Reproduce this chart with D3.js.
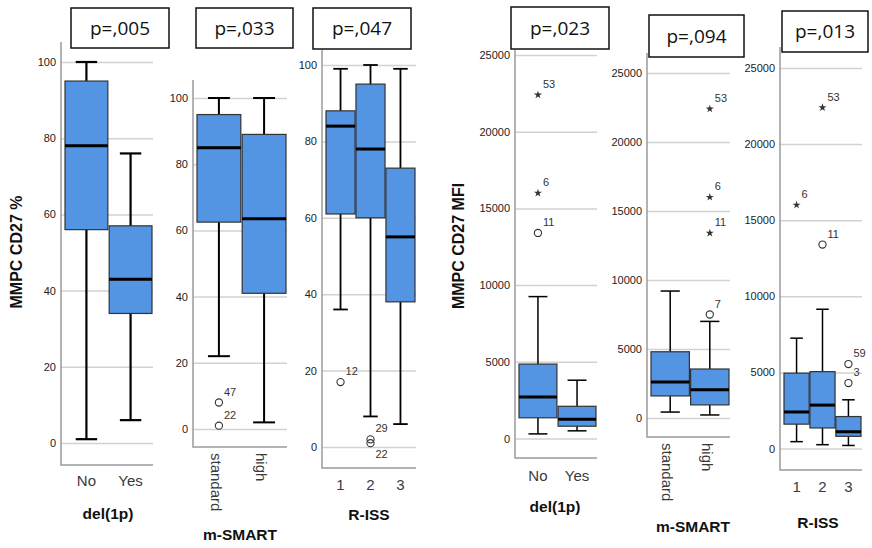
<!DOCTYPE html>
<head>
    <meta charset="utf-8">
    <script src="https://d3js.org/d3.v7.min.js"></script>
    <style>
      body { margin: 0; background: #fff; }
      text { font-family: "Liberation Sans", Arial, sans-serif; }
      .tick-label { font-size: 11px; fill: #222; }
      .cat-label { font-size: 15px; fill: #3a3a3a; }
      .axis-title { font-size: 15.5px; font-weight: bold; fill: #111; }
      .y-title { font-size: 16px; font-weight: bold; fill: #111; }
      .p-text { font-family: "Open Sans", sans-serif; font-size: 19px; fill: #111; }
      .case-label { font-size: 11px; fill: #333; }
    </style>
</head>
<body>
    <div class="chart"></div>

    <script>
      var pctTicks = [0, 20, 40, 60, 80, 100],
          mfiTicks = [0, 5000, 10000, 15000, 20000, 25000];

      var del1pCats = ["No", "Yes"],
          smartCats = ["standard", "high"],
          rissCats = ["1", "2", "3"];

      var pValues = [",005", ",033", ",047", ",023", ",094", ",013"];

      // [low whisker, Q1, median, Q3, high whisker]
      var pctDel1p = [[1, 56, 78, 95, 100], [6, 34, 43, 57, 76]];
      var pctSmart = [[22, 62.5, 85, 95, 100], [2, 41, 63.5, 89, 100]];
      var pctRiss = [[36, 61, 84, 88, 99], [8, 60, 78, 95, 100], [6, 38, 55, 73, 99]];
      var mfiDel1p = [[300, 1350, 2700, 4850, 9250], [500, 800, 1250, 2100, 3800]];
      var mfiSmart = [[430, 1600, 2600, 4800, 9200], [220, 950, 2050, 3550, 7000]];
      var mfiRiss = [[450, 1600, 2400, 4950, 7250], [250, 1350, 2850, 5050, 9150], [200, 800, 1100, 2100, 3200]];

      // outliers: [category, value, case number, "o" circle / "*" extreme]
      var pctDel1pOut = [];
      var pctSmartOut = [["standard", 8, "47", "o"], ["standard", 1, "22", "o"]];
      var pctRissOut = [["1", 17, "12", "o"], ["2", 2, "29", "o"], ["2", 1, "22", "o"]];
      var mfiDel1pOut = [["No", 22400, "53", "*"], ["No", 16000, "6", "*"], ["No", 13400, "11", "o"]];
      var mfiSmartOut = [["high", 22400, "53", "*"], ["high", 16000, "6", "*"], ["high", 13400, "11", "*"], ["high", 7500, "7", "o"]];
      var mfiRissOut = [["1", 16000, "6", "*"], ["2", 22400, "53", "*"], ["2", 13400, "11", "o"], ["3", 5550, "59", "o"], ["3", 4300, "3", "o"]];

      // layout of the six pasted SPSS panels
      var panels = [
        {cats: del1pCats, stats: pctDel1p, out: pctDel1pOut, ticks: pctTicks, max: 100,
         ax: 61, gx: 153, top: 42, bot: 465, y0: 443, yMax: 62, sw: 2.2,
         pbox: [71, 8, 98, 40], title: "del(1p)", tx: 108, ty: 519, rot: false, ly: 486,
         ytitle: "MMPC CD27 %", ytx: 16, yty: 252},
        {cats: smartCats, stats: pctSmart, out: pctSmartOut, ticks: pctTicks, max: 100,
         ax: 193, gx: 287, top: 80, bot: 447, y0: 429, yMax: 98, sw: 2,
         pbox: [196, 8, 97, 40], title: "m-SMART", tx: 240, ty: 540, rot: true, ly: 453},
        {cats: rissCats, stats: pctRiss, out: pctRissOut, ticks: pctTicks, max: 100,
         ax: 322, gx: 416, top: 50, bot: 468, y0: 447, yMax: 65, sw: 1.8,
         pbox: [313, 8, 98, 41], title: "R-ISS", tx: 369, ty: 520, rot: false, ly: 490,
         nudge: {2: 15}},
        {cats: del1pCats, stats: mfiDel1p, out: mfiDel1pOut, ticks: mfiTicks, max: 25000,
         ax: 515, gx: 597, top: 50, bot: 458, y0: 438.5, yMax: 55, sw: 1.5,
         pbox: [511, 7, 98, 42], title: "del(1p)", tx: 555, ty: 512, rot: false, ly: 481,
         ytitle: "MMPC CD27 MFI", ytx: 458, yty: 246},
        {cats: smartCats, stats: mfiSmart, out: mfiSmartOut, ticks: mfiTicks, max: 25000,
         ax: 647, gx: 730, top: 53, bot: 437, y0: 418, yMax: 73, sw: 1.5,
         pbox: [649, 15, 95, 42], title: "m-SMART", tx: 693, ty: 532, rot: true, ly: 443},
        {cats: rissCats, stats: mfiRiss, out: mfiRissOut, ticks: mfiTicks, max: 25000,
         ax: 780, gx: 862, top: 47, bot: 470, y0: 448.5, yMax: 68, sw: 1.5,
         pbox: [782, 11, 86, 41], title: "R-ISS", tx: 818, ty: 528, rot: false, ly: 492}
      ];

      var svg = d3.select('.chart')
          .append('svg')
          .attr('width', 872)
          .attr('height', 548);

      var boxFill = '#5394e3',
          gridColor = '#d2d2d2',
          axisColor = '#9a9a9a';

      panels.forEach(function(p, i) {
          var g = svg.append('g');

          var x = d3.scaleBand()
              .domain(p.cats)
              .range([p.ax + 4, p.gx - 1])
              .paddingInner(0.03);

          var y = d3.scaleLinear()
              .domain([0, p.max])
              .range([p.y0, p.yMax]);

          // gridlines + tick labels
          var yAxis = d3.axisLeft(y)
              .tickValues(p.ticks)
              .tickSize(-(p.gx - p.ax))
              .tickPadding(5)
              .tickFormat(d3.format('d'));

          var ag = g.append('g')
              .attr('transform', 'translate(' + p.ax + ',0)')
              .call(yAxis);
          ag.select('.domain').remove();
          ag.selectAll('.tick line').attr('stroke', gridColor).attr('stroke-width', 1.5);
          ag.selectAll('.tick text').attr('class', 'tick-label').attr('font-size', null).attr('font-family', null);

          // axis frame (left + bottom)
          g.append('path')
              .attr('d', 'M' + p.ax + ',' + p.top + 'V' + p.bot + 'H' + p.gx)
              .attr('fill', 'none')
              .attr('stroke', axisColor)
              .attr('stroke-width', 1.5);

          // boxes
          var bw = x.bandwidth();
          var boxes = g.selectAll('.box')
              .data(p.stats)
              .enter().append('g')
              .attr('transform', function(d, j) { return 'translate(' + x(p.cats[j]) + ',0)'; });

          boxes.append('line')
              .attr('x1', bw / 2).attr('x2', bw / 2)
              .attr('y1', function(d) { return y(d[0]); })
              .attr('y2', function(d) { return y(d[4]); })
              .attr('stroke', '#000').attr('stroke-width', p.sw);

          [0, 4].forEach(function(k) {
              boxes.append('line')
                  .attr('x1', bw * 0.25).attr('x2', bw * 0.75)
                  .attr('y1', function(d) { return y(d[k]); })
                  .attr('y2', function(d) { return y(d[k]); })
                  .attr('stroke', '#000').attr('stroke-width', p.sw);
          });

          boxes.append('rect')
              .attr('x', 0)
              .attr('width', bw)
              .attr('y', function(d) { return y(d[3]); })
              .attr('height', function(d) { return y(d[1]) - y(d[3]); })
              .attr('fill', boxFill)
              .attr('stroke', '#333')
              .attr('stroke-width', 1.2);

          boxes.append('line')
              .attr('x1', 0).attr('x2', bw)
              .attr('y1', function(d) { return y(d[2]); })
              .attr('y2', function(d) { return y(d[2]); })
              .attr('stroke', '#000').attr('stroke-width', 3);

          // outliers
          var star = d3.symbol().type(d3.symbolStar).size(20);
          p.out.forEach(function(o, k) {
              var cx = x(o[0]) + bw / 2, cy = y(o[1]);
              if (o[3] === 'o') {
                  g.append('circle')
                      .attr('cx', cx).attr('cy', cy).attr('r', 3.6)
                      .attr('fill', 'none').attr('stroke', '#333').attr('stroke-width', 1.1);
              } else {
                  g.append('path')
                      .attr('d', star)
                      .attr('transform', 'translate(' + cx + ',' + cy + ')')
                      .attr('fill', '#333');
              }
              var dy = (p.nudge && p.nudge[k] !== undefined) ? p.nudge[k] : -7;
              g.append('text')
                  .attr('class', 'case-label')
                  .attr('x', cx + 5)
                  .attr('y', cy + dy)
                  .text(o[2]);
          });

          // category labels
          p.cats.forEach(function(c) {
              var cx = x(c) + bw / 2;
              var t = g.append('text').attr('class', 'cat-label').text(c);
              if (p.rot) {
                  t.attr('transform', 'translate(' + (cx - 3) + ',' + p.ly + ') rotate(90)')
                   .attr('dy', '0.35em');
              } else {
                  t.attr('x', cx).attr('y', p.ly).attr('text-anchor', 'middle');
              }
          });

          g.append('text')
              .attr('class', 'axis-title')
              .attr('x', p.tx).attr('y', p.ty)
              .attr('text-anchor', 'middle')
              .text(p.title);

          if (p.ytitle) {
              g.append('text')
                  .attr('class', 'y-title')
                  .attr('transform', 'translate(' + p.ytx + ',' + p.yty + ') rotate(-90)')
                  .attr('dy', '0.35em')
                  .attr('text-anchor', 'middle')
                  .text(p.ytitle);
          }

          // p-value box
          g.append('rect')
              .attr('x', p.pbox[0]).attr('y', p.pbox[1])
              .attr('width', p.pbox[2]).attr('height', p.pbox[3])
              .attr('fill', '#fff')
              .attr('stroke', '#111')
              .attr('stroke-width', 1.5);

          g.append('text')
              .attr('class', 'p-text')
              .attr('x', p.pbox[0] + p.pbox[2] / 2)
              .attr('y', p.pbox[1] + p.pbox[3] / 2)
              .attr('dy', '0.36em')
              .attr('text-anchor', 'middle')
              .text('p=' + pValues[i]);
      });
    </script>
</body>
